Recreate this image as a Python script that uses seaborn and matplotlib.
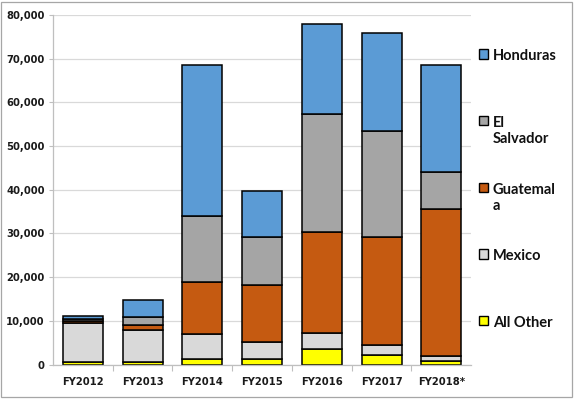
import matplotlib
matplotlib.use("Agg")
import matplotlib.pyplot as plt
import matplotlib.patches as mpatches
from matplotlib.ticker import FuncFormatter, FixedLocator
import seaborn as sns
import numpy as np

# data (apprehensions by fiscal year)
years = ["FY2012", "FY2013", "FY2014", "FY2015", "FY2016", "FY2017", "FY2018*"]
all_other = [700, 700, 1400, 1200, 3700, 2200, 800]
mexico = [8850, 7250, 5700, 4100, 3600, 2300, 1300]
guatemala = [350, 1100, 11900, 13000, 23000, 24700, 33600]
el_salvador = [500, 1950, 14900, 10800, 27100, 24200, 8300]
honduras = [750, 3900, 34600, 10700, 20400, 22400, 24500]

series = [
    ("All Other\n", all_other, "#FFFF00"),
    ("Mexico\n", mexico, "#D9D9D9"),
    ("Guatemal\na", guatemala, "#C55A11"),
    ("El\nSalvador", el_salvador, "#A5A5A5"),
    ("Honduras\n", honduras, "#5B9BD5"),
]

sns.set_style("white")

fig = plt.figure(figsize=(5.76, 3.99), dpi=100)
ax = fig.add_axes([0.092, 0.086, 0.726, 0.877])

bottom = np.zeros(len(years))
handles = []
for label, vals, color in series:
    sns.barplot(x=years, y=vals, order=years, bottom=bottom, color=color,
                edgecolor="black", linewidth=1.1, width=0.67, saturation=1,
                errorbar=None, ax=ax)
    bottom = bottom + np.array(vals)
    handles.append(mpatches.Patch(facecolor=color, edgecolor="black", linewidth=1.0, label=label))

ax.set_xlim(-0.5, len(years) - 0.5)
ax.set_ylim(0, 80000)
ax.set_yticks(range(0, 80001, 10000))
ax.yaxis.set_major_formatter(FuncFormatter(lambda v, p: f"{int(v):,}"))
ax.set_xlabel("")
ax.set_ylabel("")

ax.set_axisbelow(True)
ax.yaxis.grid(True, color="#D9D9D9", linewidth=0.9)
ax.xaxis.grid(False)
sns.despine(ax=ax, top=True, right=True)
for s in ["left", "bottom"]:
    ax.spines[s].set_color("#BFBFBF")
    ax.spines[s].set_linewidth(0.9)

ax.tick_params(axis="y", which="major", left=True, length=3, width=0.8, color="#BFBFBF", pad=3)
ax.tick_params(axis="x", which="major", bottom=False, length=0, pad=9)
ax.xaxis.set_minor_locator(FixedLocator(np.arange(0.5, len(years) - 1, 1.0)))
ax.tick_params(axis="x", which="minor", bottom=True, length=4, width=0.8, color="#BFBFBF")
for t in ax.get_xticklabels() + ax.get_yticklabels():
    t.set_fontfamily("DejaVu Sans")
    t.set_fontweight("bold")
    t.set_fontsize(7.2)
    t.set_color("#1a1a1a")

leg = fig.legend(handles=handles[::-1], loc="upper left", bbox_to_anchor=(0.8316, 0.8765),
                 frameon=False, borderpad=0, borderaxespad=0,
                 handlelength=0.6, handleheight=0.6, handletextpad=0.35,
                 labelspacing=2.5,
                 prop={"family": "Lato", "weight": "bold", "size": 10.5})
# keep the swatch next to the first line of wrapped labels, like the original
for col in leg._legend_handle_box.get_children():
    for row in col.get_children():
        row.align = "top"
for t in leg.get_texts():
    t.set_color("#111111")

# thin grey frame around the whole chart
fig.patches.append(mpatches.Rectangle((0.002, 0.004), 0.991, 0.992, transform=fig.transFigure,
                                      fill=False, edgecolor="#A6A6A6", linewidth=0.9))

fig.savefig("out.png", dpi=100)
